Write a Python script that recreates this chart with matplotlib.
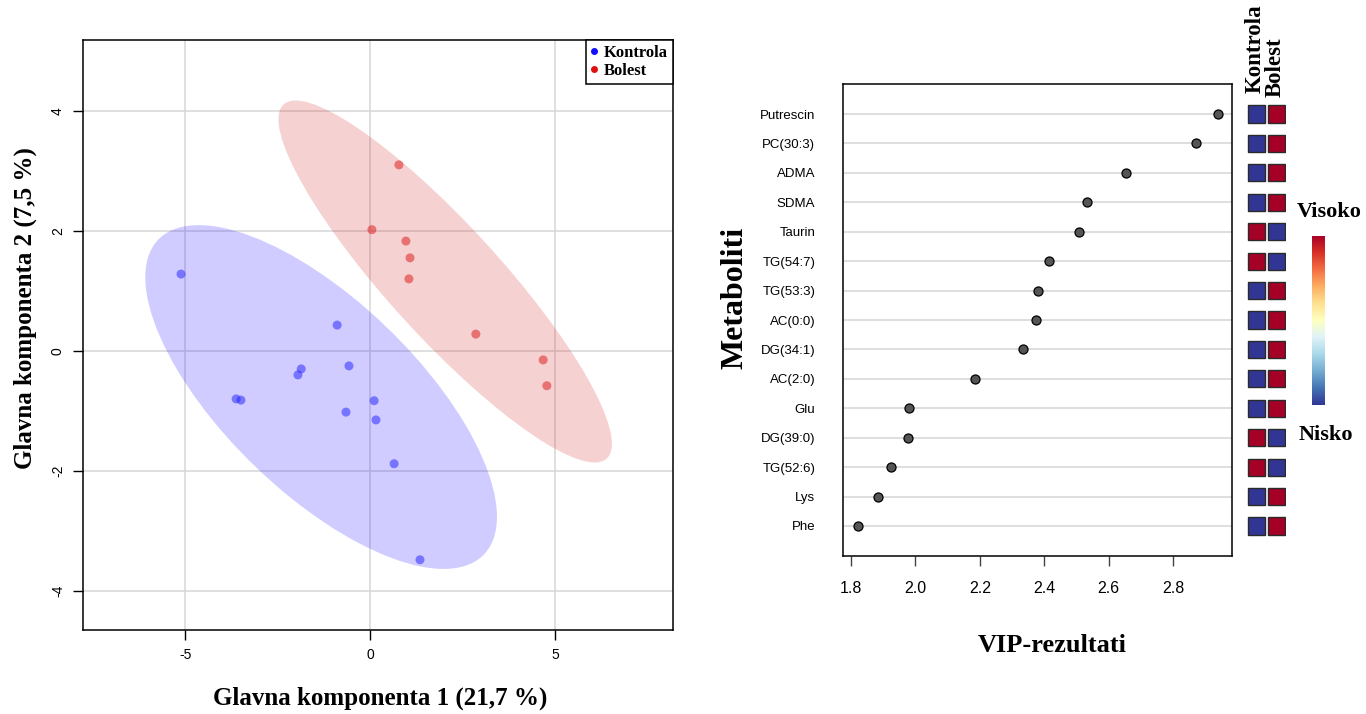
import numpy as np
import matplotlib.pyplot as plt
from matplotlib.patches import Ellipse, Rectangle

plt.rcParams['font.family'] = 'Liberation Sans'
plt.rcParams['axes.unicode_minus'] = False

W, H = 1366, 714


def box(x0, y0, x1, y1):
    # pixel box (top-left origin) -> figure fraction
    return [x0 / W, 1 - y1 / H, (x1 - x0) / W, (y1 - y0) / H]


# PCA scores
pc1_kontrola = [-5.11, -0.89, -0.57, -1.86, -1.95, -3.62, -3.49, -0.65, 0.11, 0.16, 0.65, 1.35]
pc2_kontrola = [1.28, 0.43, -0.25, -0.30, -0.40, -0.80, -0.82, -1.02, -0.83, -1.15, -1.88, -3.48]
pc1_bolest = [0.78, 0.05, 0.97, 1.08, 1.05, 2.86, 4.68, 4.78]
pc2_bolest = [3.10, 2.02, 1.83, 1.55, 1.20, 0.28, -0.15, -0.58]

# VIP scores
metaboliti = ['Putrescin', 'PC(30:3)', 'ADMA', 'SDMA', 'Taurin', 'TG(54:7)', 'TG(53:3)',
              'AC(0:0)', 'DG(34:1)', 'AC(2:0)', 'Glu', 'DG(39:0)', 'TG(52:6)', 'Lys', 'Phe']
vip = [2.939, 2.871, 2.653, 2.533, 2.508, 2.414, 2.379, 2.375, 2.334, 2.186,
       1.982, 1.977, 1.925, 1.884, 1.822]
# 1 = high, 0 = low
kontrola_hi = [0, 0, 0, 0, 1, 1, 0, 0, 0, 0, 0, 1, 1, 0, 0]
bolest_hi = [1, 1, 1, 1, 0, 0, 1, 1, 1, 1, 1, 0, 0, 1, 1]

serif = 'Liberation Serif'
low_col, high_col = '#313695', '#a50026'


def conf_ellipse(x, y, color):
    x = np.asarray(x)
    y = np.asarray(y)
    vals, vecs = np.linalg.eigh(np.cov(x, y))
    k = np.sqrt(5.991)  # 95 %
    angle = np.degrees(np.arctan2(vecs[1, 1], vecs[0, 1]))
    return Ellipse((x.mean(), y.mean()), 2 * k * np.sqrt(vals[1]), 2 * k * np.sqrt(vals[0]),
                   angle=angle, facecolor=color, edgecolor='none', alpha=0.22, zorder=1)


fig = plt.figure(figsize=(13.66, 7.14), dpi=100)

# ---------- left: PCA ----------
ax = fig.add_axes(box(83, 40, 673, 630))
ax.set_xlim(-7.76, 8.19)
ax.set_ylim(-4.65, 5.18)
ax.set_xticks([-5, 0, 5])
ax.set_yticks([-4, -2, 0, 2, 4])
ax.grid(True, color='#d6d6d6', lw=1.1)
ax.set_axisbelow(True)
ax.add_patch(conf_ellipse(pc1_kontrola, pc2_kontrola, '#2a1aff'))
ax.add_patch(conf_ellipse(pc1_bolest, pc2_bolest, '#d93030'))
ax.scatter(pc1_kontrola, pc2_kontrola, s=42, color='#2020ff', alpha=0.5, edgecolors='none', zorder=3)
ax.scatter(pc1_bolest, pc2_bolest, s=42, color='#dd2222', alpha=0.55, edgecolors='none', zorder=3)
for s in ax.spines.values():
    s.set_linewidth(1.1)
ax.tick_params(length=7, width=1, labelsize=10, pad=6)
plt.setp(ax.get_yticklabels(), rotation=90, va='center')

ax.plot([], [], 'o', ms=4, color='#1010ff', label='Kontrola')
ax.plot([], [], 'o', ms=4, color='#e01010', label='Bolest')
leg = ax.legend(loc='upper right', borderaxespad=0, fancybox=False, framealpha=1,
                edgecolor='black', handlelength=0.4, handletextpad=0.4, borderpad=0.3,
                labelspacing=0.1, prop={'family': serif, 'weight': 'bold', 'size': 12})
leg.get_frame().set_linewidth(1.1)

fig.text(380 / W, 1 - 698 / H, 'Glavna komponenta 1 (21,7 %)', ha='center', va='center',
         family=serif, weight='bold', fontsize=18)
fig.text(25 / W, 1 - 308 / H, 'Glavna komponenta 2 (7,5 %)', ha='center', va='center',
         rotation=90, family=serif, weight='bold', fontsize=18)

# ---------- right: VIP ----------
rows = np.arange(1, len(metaboliti) + 1)
ax2 = fig.add_axes(box(843, 84, 1232, 556))
ax2.set_xlim(1.776, 2.982)
ax2.set_ylim(16.02, -0.02)
for r in rows:
    ax2.axhline(r, color='#d4d4d4', lw=1.1, zorder=1)
ax2.plot(vip, rows, 'o', ms=6.5, mfc='#555555', mec='black', mew=0.9, ls='none', zorder=3)
ax2.set_yticks(rows)
ax2.set_yticklabels(metaboliti, fontsize=9.5)
ax2.set_xticks([1.8, 2.0, 2.2, 2.4, 2.6, 2.8])
ax2.set_xticklabels(['1.8', '2.0', '2.2', '2.4', '2.6', '2.8'], fontsize=11.5)
ax2.tick_params(axis='y', length=0, pad=20)
ax2.tick_params(axis='x', length=7, width=1, color='#444444', pad=11)
for s in ax2.spines.values():
    s.set_linewidth(1.1)

fig.text(735 / W, 1 - 298 / H, 'Metaboliti', ha='center', va='center', rotation=90,
         family=serif, weight='bold', fontsize=23)
fig.text(1052 / W, 1 - 645 / H, 'VIP-rezultati', ha='center', va='center',
         family=serif, weight='bold', fontsize=19)

# ---------- heatmap squares ----------
axh = fig.add_axes(box(1246, 84, 1286, 556))
axh.set_xlim(0, 2)
axh.set_ylim(16.02, -0.02)
axh.axis('off')
for col, vals in enumerate([kontrola_hi, bolest_hi]):
    for r, v in zip(rows, vals):
        axh.add_patch(Rectangle((col + 0.08, r - 0.29), 0.86, 0.58,
                                facecolor=high_col if v else low_col,
                                edgecolor='#2a2a2a', lw=1))

fig.text(1255 / W, 1 - 93 / H, 'Kontrola', rotation=90, ha='center', va='bottom',
         family=serif, weight='bold', fontsize=16.5)
fig.text(1275 / W, 1 - 97 / H, 'Bolest', rotation=90, ha='center', va='bottom',
         family=serif, weight='bold', fontsize=16.5)

# ---------- colour key ----------
axc = fig.add_axes(box(1312, 236, 1325, 405))
axc.imshow(np.linspace(0, 1, 256)[:, None], cmap='RdYlBu_r', aspect='auto', origin='lower')
axc.axis('off')
fig.text(1329 / W, 1 - 212 / H, 'Visoko', ha='center', va='center',
         family=serif, weight='bold', fontsize=16)
fig.text(1326 / W, 1 - 435 / H, 'Nisko', ha='center', va='center',
         family=serif, weight='bold', fontsize=16)

fig.savefig('out.png', dpi=100)
